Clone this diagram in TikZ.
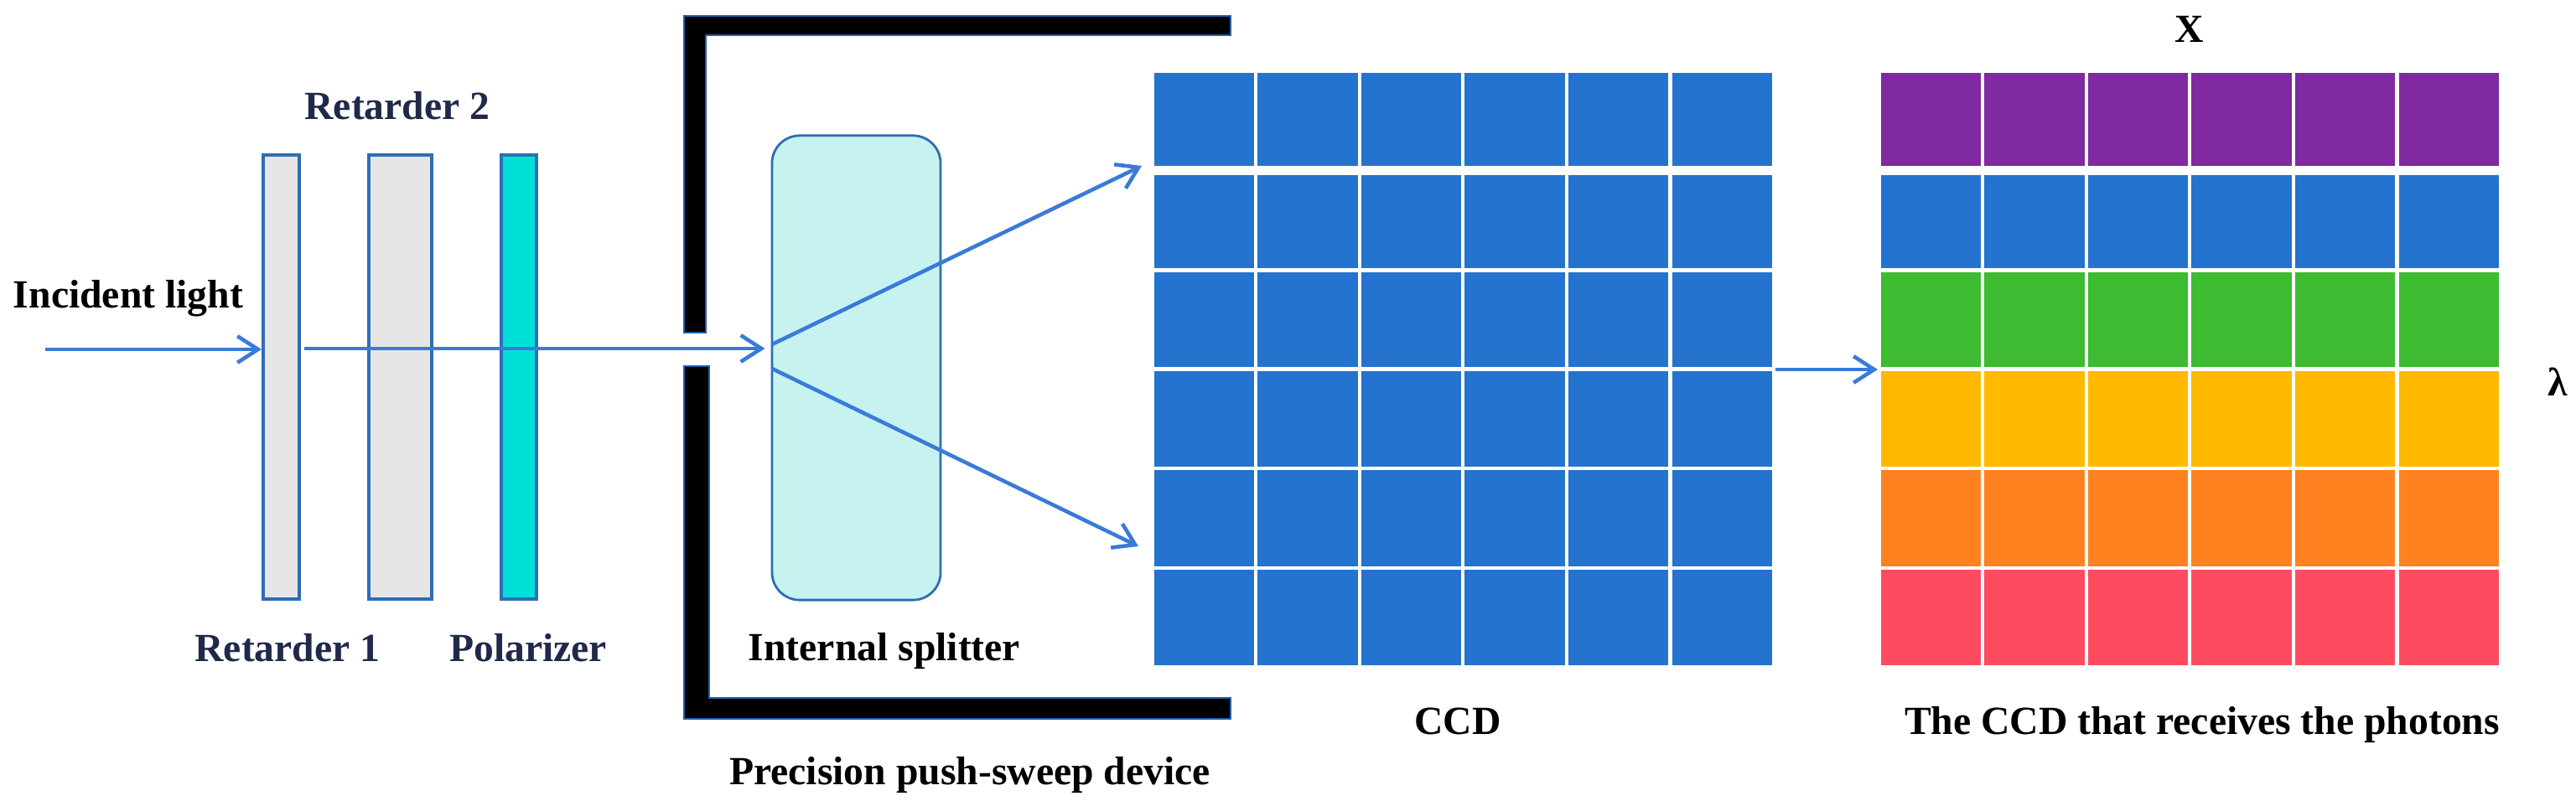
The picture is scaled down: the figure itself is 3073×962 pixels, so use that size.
\documentclass[tikz,border=0pt]{standalone}
\usepackage{fontspec}
\setmainfont{Liberation Serif}
\usepackage{xcolor}
\usepackage{tikz}
\usetikzlibrary{arrows.meta, positioning}

\definecolor{colcell}{HTML}{2473CF}
\definecolor{colbeam}{HTML}{3A7AD8}
\definecolor{colborder}{HTML}{2F6DB5}
\definecolor{colpurple}{HTML}{7F2AA0}
\definecolor{colgreen}{HTML}{3DBB31}
\definecolor{colyellow}{HTML}{FFBA00}
\definecolor{colorange}{HTML}{FF8221}
\definecolor{colred}{HTML}{FF4B60}
\definecolor{colteal}{HTML}{00DFD8}
\definecolor{colpale}{HTML}{C6F3F0}
\definecolor{colgrey}{HTML}{E6E6E6}
\definecolor{colnavy}{HTML}{1F2A4A}
\definecolor{coledge}{HTML}{1F5FB0}

\begin{document}
\begin{tikzpicture}[x=0.01cm, y=-0.01cm,
    every node/.style={align=center},
    plate/.style={draw=colborder, line width=1.1pt, inner sep=0pt, minimum height=5.3cm},
    cell/.style={inner sep=0pt, minimum width=1.195cm},
    beam/.style={draw=colbeam, line width=1.3pt, -{Straight Barb[length=7pt, width=9pt]}},
    lbl/.style={anchor=base, font=\fontsize{13.55}{16}\selectfont\bfseries},
    lblnavy/.style={lbl, text=colnavy},
    wall/.style={fill=black, draw=coledge, line width=0.4pt}]
  \useasboundingbox (0,0) rectangle (3073,962);

  % retarders and polarizer
  \node[plate, fill=colgrey, minimum width=0.43cm] (retone) at (335.5,450) {};
  \node[plate, fill=colgrey, minimum width=0.75cm] (rettwo) at (477.5,450) {};
  \node[plate, fill=colteal, minimum width=0.42cm] (polar) at (619,450) {};
  \node[draw=colborder, line width=0.8pt, fill=colpale, rounded corners=0.33cm, inner sep=0pt,
    minimum width=2.01cm, minimum height=5.54cm] (splitter) at (1021.5,439) {};

  % push-sweep walls
  \draw[wall] (816,19) -- (1468,19) -- (1468,42) -- (842,42) -- (842,397) -- (816,397) -- cycle;
  \draw[wall] (816,437) -- (846,437) -- (846,833) -- (1468,833) -- (1468,858) -- (816,858) -- cycle;

  % both sensors
  \foreach \y/\h/\r/\colr in {142.5/1.11/1/colpurple, 264.5/1.11/2/colcell, 381.5/1.13/3/colgreen,
      500/1.14/4/colyellow, 618.5/1.15/5/colorange, 737/1.14/6/colred} {
    \foreach \x/\c in {1436.5/1, 1560/2, 1683.5/3, 1807/4, 1930.5/5, 2054.5/6} {
      \node[cell, fill=colcell, minimum height=\h cm] (ccd\r\c) at (\x,\y) {};
      \node[cell, fill=\colr, minimum height=\h cm] (rcv\r\c) at (\x+867,\y) {};
    }
  }

  % light path
  \coordinate (lightin) at (54,417);
  \coordinate (thru) at (363,416);
  \coordinate (upstart) at (921,411);
  \coordinate (upend) at (1362,198);
  \coordinate (downstart) at (921,440);
  \coordinate (downend) at (1358,652);
  \coordinate (ccdout) at (2118,441);
  \coordinate (rcvin) at (2240,441);
  \draw[beam] (lightin) -- (retone.west |- lightin);
  \draw[beam, shorten >=2pt] (thru) -- (splitter.west |- thru);
  \draw[beam] (upstart) -- (upend);
  \draw[beam] (downstart) -- (downend);
  \draw[beam] (ccdout) -- (rcvin);

  % labels
  \node[lbl] (lblin) at (153,368) {Incident light};
  \node[lblnavy] (lbltwo) at (474,143) {Retarder 2};
  \node[lblnavy] (lblone) at (343,790) {Retarder 1};
  \node[lblnavy] (lblpol) at (630,790) {Polarizer};
  \node[lbl] (lblsplit) at (1055,789) {Internal splitter};
  \node[lbl] (lblpush) at (1157,937) {Precision push-sweep device};
  \node[lbl] (lblccd) at (1739,877) {CCD};
  \node[lbl] (lblrcv) at (2627,877) {The CCD that receives the photons};
  \node[lbl] (lblx) at (2612,51) {X};
  \node[lbl] (lbllam) at (3051,473) {λ};
\end{tikzpicture}
\end{document}
